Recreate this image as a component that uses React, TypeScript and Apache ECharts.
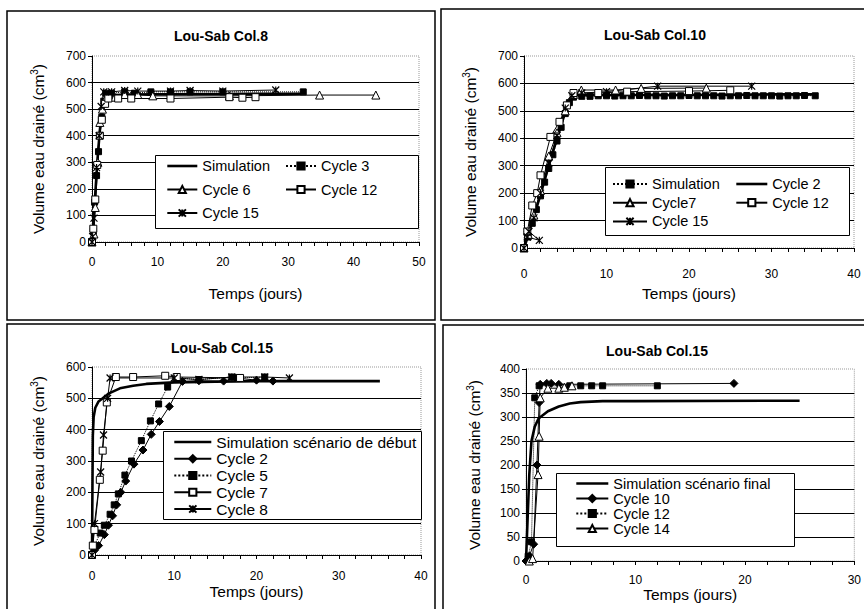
import { useEffect, useRef } from 'react';
import * as echarts from 'echarts';

type Pt = [number, number];

// ---------- Panel 1 : Lou-Sab Col.8 ----------
const p1Simulation: Pt[] = [[0,0],[0.3,100],[0.6,220],[0.9,330],[1.2,420],[1.5,490],[1.8,530],[2.2,548],[3,552],[5,555],[10,556],[20,557],[32,558]];
const p1Cycle3: Pt[] = [[0,0],[0.2,40],[0.4,150],[0.7,250],[1.0,340],[1.2,400],[1.5,470],[1.8,530],[2.1,560],[3,560],[5,565],[6.5,560],[9,565],[12,565],[15,565],[20,565],[32.3,565]];
const p1Cycle6: Pt[] = [[0,0],[0.3,30],[0.5,130],[0.9,300],[1.2,450],[1.6,500],[2.2,545],[3.5,545],[5,555],[7,555],[9.3,550],[21,550],[34.8,553],[43.4,553]];
const p1Cycle12: Pt[] = [[0,0],[0.2,50],[0.5,160],[0.8,290],[1.2,400],[1.5,460],[2,520],[2.5,540],[4,540],[6,540],[12,540],[21,545],[23,543],[25,545]];
const p1Cycle15: Pt[] = [[0,0],[0.1,20],[0.3,90],[0.7,280],[1.1,400],[1.4,510],[1.8,565],[3,565],[5,570],[7,568],[12,568],[15,570],[20,568],[28.1,572]];

// ---------- Panel 2 : Lou-Sab Col.10 ----------
const p2Simulation: Pt[] = [[0,0],[0.5,40],[1,90],[1.5,140],[2,190],[2.5,240],[3,290],[3.5,340],[4,390],[4.5,440],[5,490],[5.5,530],[6,550],[7,553],[8,553],[9,555],[10,555],[11,554],[12,555],[13,555],[14,556],[15,555],[16,555],[17,554],[18,555],[19,555],[20,556],[21,555],[22,555],[23,555],[24,554],[25,555],[26,555],[27,556],[28,555],[29,555],[30,555],[31,554],[32,555],[33,555],[34,556],[35.3,555]];
const p2Cycle2: Pt[] = [[0,0],[0.5,45],[1,95],[2,195],[3,300],[4,400],[5,495],[5.7,550],[6.5,558],[10,558],[20,558],[30,560],[35,560]];
const p2Cycle7: Pt[] = [[0,0],[0.5,50],[1.2,120],[2,210],[3,335],[4,420],[5,500],[6,560],[6.95,576],[11.1,576],[14.2,582],[22.1,583]];
const p2Cycle12: Pt[] = [[0,0],[0.4,60],[1,155],[1.6,200],[2.0,265],[3.2,405],[4.3,460],[5.2,520],[6.0,565],[9,565],[12.5,570],[20,572],[25,575]];
const p2Cycle15: Pt[] = [[0,0],[0.4,40],[1.86,28],[0.6,60],[1.2,110],[2,200],[3,310],[4,410],[5,510],[5.8,555],[7,565],[10,570],[16.2,590],[27.6,590]];

// ---------- Panel 3 : Lou-Sab Col.15 (début) ----------
const p3Simulation: Pt[] = [[0,0],[0.05,200],[0.1,380],[0.2,440],[0.4,470],[0.8,490],[1.3,500],[2,515],[3.4,532],[5,540],[6.6,546],[10,551],[15,553],[20,555],[35,555]];
const p3Cycle2: Pt[] = [[0,0],[0.3,15],[0.8,30],[1.5,65],[2,95],[2.5,125],[3,160],[3.5,200],[4.1,236],[5.1,290],[6.2,335],[7.2,385],[8.2,426],[9.4,474],[11,554],[13,556],[16,555],[17.5,565],[20,558],[22,555]];
const p3Cycle5: Pt[] = [[0,0],[0.3,30],[1,70],[1.5,95],[2.2,130],[2.7,160],[3.2,195],[4,255],[4.8,300],[6,365],[7.1,428],[8.1,482],[9.2,536],[10.2,565],[13,560],[17,568],[18,565],[21,568]];
const p3Cycle7: Pt[] = [[0,0],[0.1,30],[0.3,80],[0.95,240],[1.3,333],[1.8,487],[2.9,568],[5,568],[8.9,572],[10.3,568],[18,565]];
const p3Cycle8: Pt[] = [[0,0],[0.3,100],[1.05,265],[1.4,383],[1.9,500],[2.2,565],[10,565],[13,560],[17,568],[21,568],[24,565]];

// ---------- Panel 4 : Lou-Sab Col.15 (final) ----------
const p4Simulation: Pt[] = [[0,0],[0.1,60],[0.3,180],[0.5,250],[0.8,280],[1.15,297],[2,312],[3,322],[4,328],[5,331],[7,333],[10,333],[25,334]];
const p4Cycle10: Pt[] = [[0,0],[0.3,10],[0.7,35],[1.0,200],[1.2,330],[1.3,368],[1.9,370],[2.3,370],[3,368],[19,370]];
const p4Cycle12: Pt[] = [[0.2,10],[0.5,40],[0.8,340],[1.2,365],[4,365],[5,365],[6,365],[7,365],[12,365]];
const p4Cycle14: Pt[] = [[0.3,0],[0.6,5],[1.1,180],[1.2,260],[1.3,340],[2,360],[3,360],[3.5,362],[4.2,365]];

// ---------- axes ----------
const xMax = [50, 40, 40, 30];
const yMax = [700, 700, 600, 400];
const yInterval = [100, 100, 100, 50];
const titles = ['Lou-Sab Col.8', 'Lou-Sab Col.10', 'Lou-Sab Col.15', 'Lou-Sab Col.15'];
const xName = 'Temps (jours)';
const yName = 'Volume eau drainé (cm{s|3})';

const FONT = '"Liberation Sans", Arial, sans-serif';
const STAR = 'path://M0,0L10,10M10,0L0,10M5,0L5,10';

type Kind = 'thick' | 'fsqDot' | 'tri' | 'osq' | 'star' | 'dia';

function styleOf(kind: Kind): any {
  const thin = { width: 1, color: '#000' };
  switch (kind) {
    case 'thick':
      return { symbol: 'none', showSymbol: false, lineStyle: { width: 2.6, color: '#000' }, itemStyle: { color: '#000' } };
    case 'fsqDot':
      return { symbol: 'rect', symbolSize: 6, lineStyle: { width: 1, color: '#000', type: 'dotted' }, itemStyle: { color: '#000', borderColor: '#000', borderWidth: 1 } };
    case 'tri':
      return { symbol: 'triangle', symbolSize: 8, lineStyle: thin, itemStyle: { color: '#fff', borderColor: '#000', borderWidth: 1 } };
    case 'osq':
      return { symbol: 'rect', symbolSize: 7, lineStyle: thin, itemStyle: { color: '#fff', borderColor: '#000', borderWidth: 1 } };
    case 'star':
      return { symbol: STAR, symbolSize: 7, lineStyle: thin, itemStyle: { color: '#000', borderColor: '#000', borderWidth: 1.2 } };
    case 'dia':
      return { symbol: 'diamond', symbolSize: 8, lineStyle: thin, itemStyle: { color: '#000', borderColor: '#000', borderWidth: 1 } };
  }
}

function mk(id: string, label: string, data: Pt[], gi: number, kind: Kind): any {
  return {
    type: 'line',
    name: id + '|' + label,
    xAxisIndex: gi,
    yAxisIndex: gi,
    data,
    showSymbol: kind !== 'thick',
    emphasis: { disabled: true },
    silent: true,
    z: 3,
    ...styleOf(kind),
  };
}

const grids = [
  { left: 92, top: 56, width: 327, height: 186 },
  { left: 524, top: 56, width: 330, height: 192 },
  { left: 92, top: 367, width: 329, height: 188 },
  { left: 526, top: 369, width: 331, height: 192 },
];
const labelMargin = [14, 20, 15, 13];
const xNameGap = [43, 37, 28, 21];
const yNameGap = [45, 45, 45, 43];

export default function App() {
  const ref = useRef<HTMLDivElement>(null);

  useEffect(() => {
    document.body.style.margin = '0';
    if (!ref.current) return;
    const chart = echarts.init(ref.current, undefined, { renderer: 'svg' });

    const series = [
      mk('a', 'Simulation', p1Simulation, 0, 'thick'),
      mk('a', 'Cycle 3', p1Cycle3, 0, 'fsqDot'),
      mk('a', 'Cycle 6', p1Cycle6, 0, 'tri'),
      mk('a', 'Cycle 12', p1Cycle12, 0, 'osq'),
      mk('a', 'Cycle 15', p1Cycle15, 0, 'star'),

      mk('b', 'Simulation', p2Simulation, 1, 'fsqDot'),
      mk('b', 'Cycle 2', p2Cycle2, 1, 'thick'),
      mk('b', 'Cycle7', p2Cycle7, 1, 'tri'),
      mk('b', 'Cycle 12', p2Cycle12, 1, 'osq'),
      mk('b', 'Cycle 15', p2Cycle15, 1, 'star'),

      mk('c', 'Simulation scénario de début', p3Simulation, 2, 'thick'),
      mk('c', 'Cycle 2', p3Cycle2, 2, 'dia'),
      mk('c', 'Cycle 5', p3Cycle5, 2, 'fsqDot'),
      mk('c', 'Cycle 7', p3Cycle7, 2, 'osq'),
      mk('c', 'Cycle 8', p3Cycle8, 2, 'star'),

      mk('d', 'Simulation scénario final', p4Simulation, 3, 'thick'),
      mk('d', 'Cycle 10', p4Cycle10, 3, 'dia'),
      mk('d', 'Cycle 12', p4Cycle12, 3, 'fsqDot'),
      mk('d', 'Cycle 14', p4Cycle14, 3, 'tri'),
    ];

    const thickNames = new Set(['a|Simulation', 'b|Cycle 2', 'c|Simulation scénario de début', 'd|Simulation scénario final']);
    const item = (n: string) =>
      thickNames.has(n)
        ? { name: n, itemStyle: { color: 'rgba(0,0,0,0)', borderColor: 'rgba(0,0,0,0)', borderWidth: 0 }, lineStyle: { width: 2.6, color: '#000' } }
        : { name: n };

    const fmt = (n: string) => n.split('|')[1];
    const leg = (data: string[], left: number, top: number, itemWidth: number, fontSize: number, lineHeight: number, itemGap: number) => ({
      data: data.map(item),
      left,
      top,
      orient: 'vertical',
      itemWidth,
      itemHeight: 9,
      itemGap,
      padding: 0,
      z: 20,
      selectedMode: false,
      formatter: fmt,
      textStyle: { color: '#000', fontSize, lineHeight, fontFamily: FONT },
    });

    const legends = [
      leg(['a|Simulation', 'a|Cycle 6', 'a|Cycle 15'], 166, 158, 30, 14.5, 16, 7.5),
      leg(['a|Cycle 3', 'a|Cycle 12'], 285, 158, 30, 14.5, 16, 7.5),
      leg(['b|Simulation', 'b|Cycle7', 'b|Cycle 15'], 612, 176, 34, 14.5, 16, 2.7),
      leg(['b|Cycle 2', 'b|Cycle 12'], 735, 176, 31, 14.5, 16, 2.7),
      leg(['c|Simulation scénario de début', 'c|Cycle 2', 'c|Cycle 5', 'c|Cycle 7', 'c|Cycle 8'], 173, 434, 37, 15.5, 16, 0.75),
      leg(['d|Simulation scénario final', 'd|Cycle 10', 'd|Cycle 12', 'd|Cycle 14'], 575, 476, 32, 14.5, 15, 0),
    ];

    const legendBoxes = [
      [155, 155, 263, 73],
      [605, 167, 244, 68],
      [163, 431, 258, 88],
      [556, 473, 238, 73],
    ].map(([x, y, w, h]) => ({
      type: 'rect',
      z: 10,
      shape: { x: x + 0.5, y: y + 0.5, width: w, height: h },
      style: { fill: '#fff', stroke: '#000', lineWidth: 1 },
      silent: true,
    }));

    const frames = [
      [7, 11, 428, 309],
      [441, 9, 440, 311],
      [7, 324, 428, 300],
      [443, 325, 440, 300],
    ].map(([x, y, w, h]) => ({
      type: 'rect',
      z: 0,
      shape: { x, y, width: w, height: h },
      style: { fill: 'none', stroke: '#000', lineWidth: 1.5 },
      silent: true,
    }));

    const titleCenters = [[221, 36], [655, 35], [222, 348], [657, 351]];
    const titleTexts = titles.map((t, i) => ({
      type: 'text',
      z: 10,
      x: titleCenters[i][0],
      y: titleCenters[i][1],
      style: {
        text: t,
        fill: '#000',
        font: `bold 14px ${FONT}`,
        textAlign: 'center',
        textVerticalAlign: 'middle',
      },
      silent: true,
    }));

    const option: any = {
      animation: false,
      backgroundColor: '#fff',
      grid: grids.map((g) => ({
        ...g,
        show: true,
        borderColor: '#999',
        borderWidth: 1,
        borderType: 'dotted',
        backgroundColor: 'transparent',
      })),
      xAxis: grids.map((_, i) => ({
        type: 'value',
        gridIndex: i,
        min: 0,
        max: xMax[i],
        interval: 10,
        name: xName,
        nameLocation: 'middle',
        nameGap: xNameGap[i],
        nameTextStyle: { color: '#000', fontSize: 15.5, fontFamily: FONT },
        axisLine: { show: true, onZero: false, lineStyle: { color: '#000', width: 1 } },
        axisTick: { show: true, inside: false, length: 4, lineStyle: { color: '#000' } },
        minorTick: { show: true, splitNumber: 5, length: 4, lineStyle: { color: '#000' } },
        axisLabel: { color: '#000', fontSize: 12, fontFamily: FONT, margin: labelMargin[i] },
        splitLine: { show: false },
      })),
      yAxis: grids.map((_, i) => ({
        type: 'value',
        gridIndex: i,
        min: 0,
        max: yMax[i],
        interval: yInterval[i],
        name: yName,
        nameLocation: 'middle',
        nameGap: yNameGap[i],
        nameRotate: 90,
        nameTextStyle: {
          color: '#000',
          fontSize: 15.5,
          fontFamily: FONT,
          lineHeight: 18,
          rich: { s: { fontSize: 10, lineHeight: 12, verticalAlign: 'top', fontFamily: FONT, color: '#000' } },
        },
        axisLine: { show: true, onZero: false, lineStyle: { color: '#000', width: 1 } },
        axisTick: { show: true, inside: false, length: 4, lineStyle: { color: '#000' } },
        axisLabel: { color: '#000', fontSize: 12, fontFamily: FONT, margin: 6 },
        splitLine: { show: true, showMinLine: false, showMaxLine: false, lineStyle: { color: '#000', width: 1 } },
      })),
      legend: legends,
      graphic: [...frames, ...legendBoxes, ...titleTexts],
      series,
    };

    chart.setOption(option);
    return () => chart.dispose();
  }, []);

  return <div ref={ref} style={{ width: 864, height: 609 }} />;
}
